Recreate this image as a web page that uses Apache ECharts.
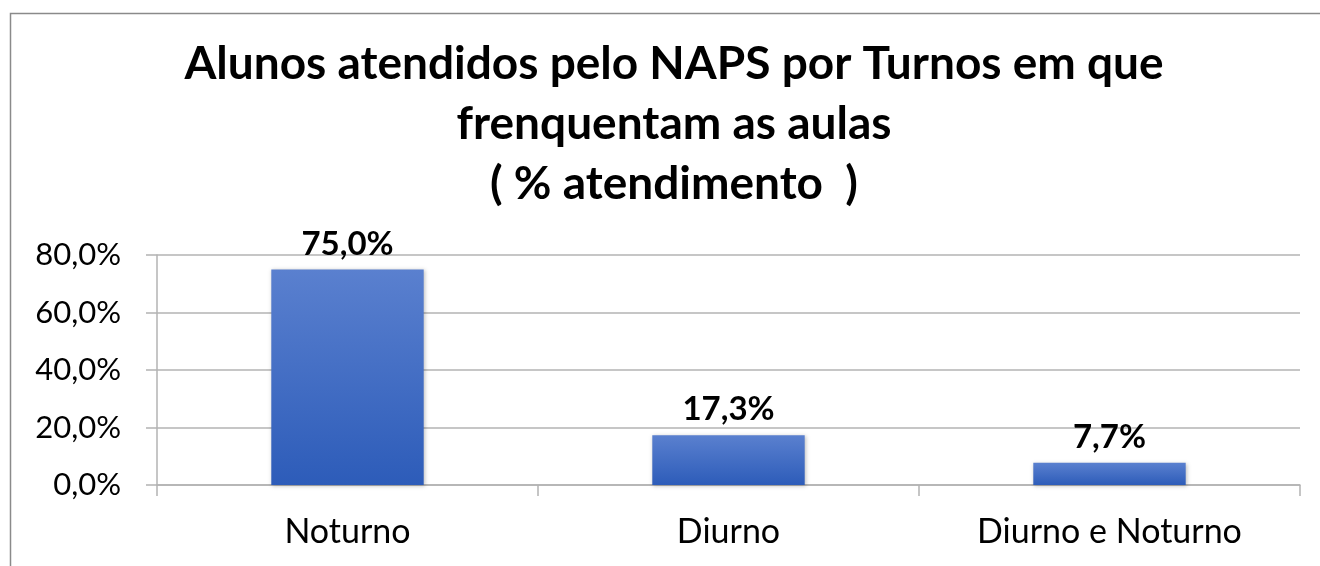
<!DOCTYPE html>
<html>
<head>
<meta charset="utf-8">
<script src="https://cdn.jsdelivr.net/npm/echarts@6/dist/echarts.min.js"></script>
<style>
* { margin: 0; padding: 0; }
body { background: #fff; }
#chart { width: 1320px; height: 566px; }
</style>
</head>
<body>
<div id="chart"></div>
<script>
const categories = ['Noturno', 'Diurno', 'Diurno e Noturno']
const percentValues = [75.0, 17.3, 7.7]
const yTicks = [0, 20, 40, 60, 80]

const fmt = v => v.toFixed(1).replace('.', ',') + '%'
const FONT = 'Lato, "Open Sans", sans-serif'

const chart = echarts.init(document.getElementById('chart'))
chart.setOption({
  backgroundColor: '#fff',
  animation: false,
  title: {
    text: 'Alunos atendidos pelo NAPS por Turnos em que\nfrenquentam as aulas\n( % atendimento  )',
    left: 669,
    textAlign: 'center',
    top: 29,
    textStyle: { fontFamily: FONT, fontSize: 46, fontWeight: 'bold', color: '#000', lineHeight: 60 }
  },
  graphic: [{
    type: 'rect',
    shape: { x: 10.5, y: 13.5, width: 1400, height: 700 },
    style: { fill: 'none', stroke: '#8a8a8a', lineWidth: 1.5 },
    silent: true
  }],
  grid: { left: 157, right: 20, top: 255, bottom: 81 },
  xAxis: {
    type: 'category',
    data: categories,
    axisLine: { lineStyle: { color: '#b3b3b3', width: 1.5 } },
    axisTick: { show: true, length: 11, lineStyle: { color: '#b3b3b3', width: 1.5 } },
    axisLabel: { color: '#000', fontFamily: FONT, fontSize: 34, margin: 30 }
  },
  yAxis: {
    type: 'value',
    min: yTicks[0],
    max: yTicks[yTicks.length - 1],
    interval: yTicks[1] - yTicks[0],
    axisLine: { show: true, lineStyle: { color: '#b3b3b3', width: 1.5 } },
    axisTick: { show: true, length: 11, lineStyle: { color: '#b3b3b3', width: 1.5 } },
    axisLabel: { color: '#000', fontFamily: FONT, fontSize: 31, margin: 36, formatter: fmt },
    splitLine: { lineStyle: { color: '#b3b3b3', width: 1.5 } }
  },
  series: [{
    type: 'bar',
    data: percentValues,
    barCategoryGap: '60%',
    itemStyle: {
      color: new echarts.graphic.LinearGradient(0, 0, 0, 1, [
        { offset: 0, color: '#5a80cf' },
        { offset: 1, color: '#2d5cb9' }
      ]),
      shadowColor: 'rgba(0,0,0,0.25)',
      shadowBlur: 4,
      shadowOffsetX: 1,
      shadowOffsetY: 1
    },
    label: {
      show: true,
      position: 'top',
      distance: 9,
      color: '#000',
      fontFamily: FONT,
      fontSize: 33,
      fontWeight: 'bold',
      formatter: p => fmt(p.value)
    }
  }]
})
</script>
</body>
</html>
